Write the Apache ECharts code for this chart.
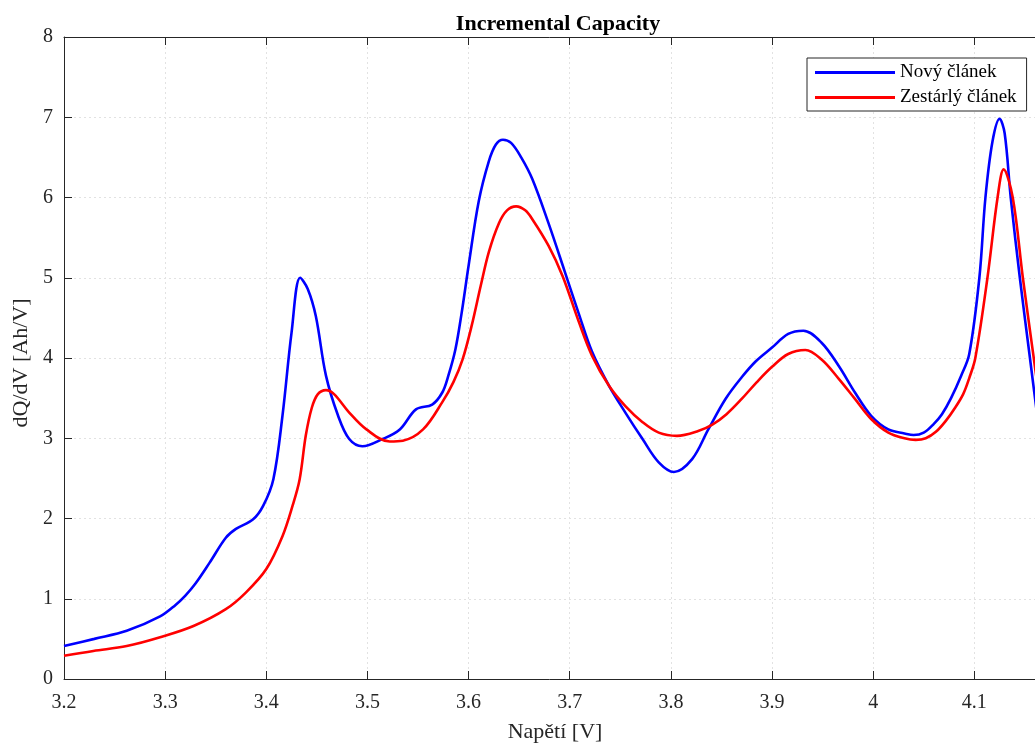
<!DOCTYPE html>
<html>
<head>
<meta charset="utf-8">
<script src="https://cdn.jsdelivr.net/npm/echarts@6/dist/echarts.min.js"></script>
<style>
  html, body { margin: 0; padding: 0; background: #fff; }
  #chart { width: 1035px; height: 748px; }
</style>
</head>
<body>
<div id="chart"></div>
<script>
// Incremental capacity (dQ/dV) of a new and an aged cell
const voltageNew = [3.200, 3.230, 3.262, 3.295, 3.310, 3.320, 3.330, 3.344, 3.360, 3.370, 3.387, 3.397, 3.407, 3.416, 3.425, 3.4335, 3.441, 3.449, 3.459, 3.471, 3.482, 3.495, 3.515, 3.532, 3.548, 3.564, 3.574, 3.580, 3.587, 3.593, 3.600, 3.610, 3.620, 3.627, 3.634, 3.642, 3.652, 3.663, 3.679, 3.695, 3.709, 3.722, 3.739, 3.755, 3.772, 3.788, 3.803, 3.821, 3.837, 3.854, 3.870, 3.884, 3.900, 3.916, 3.931, 3.949, 3.966, 3.982, 3.998, 4.015, 4.031, 4.040, 4.050, 4.060, 4.068, 4.077, 4.087, 4.095, 4.105, 4.111, 4.118, 4.125, 4.130, 4.136, 4.145, 4.155, 4.162];
const dqdvNew    = [0.41, 0.50, 0.60, 0.78, 0.92, 1.04, 1.19, 1.45, 1.76, 1.87, 1.99, 2.16, 2.49, 3.28, 4.32, 5.00, 4.86, 4.52, 3.78, 3.28, 2.99, 2.90, 2.99, 3.11, 3.36, 3.42, 3.57, 3.78, 4.11, 4.55, 5.15, 5.95, 6.45, 6.66, 6.72, 6.68, 6.50, 6.23, 5.68, 5.08, 4.55, 4.08, 3.65, 3.32, 2.99, 2.70, 2.58, 2.74, 3.11, 3.49, 3.76, 3.96, 4.13, 4.30, 4.34, 4.19, 3.90, 3.57, 3.28, 3.11, 3.06, 3.04, 3.07, 3.18, 3.30, 3.50, 3.78, 4.05, 5.00, 6.00, 6.70, 6.98, 6.80, 6.00, 5.00, 4.00, 3.30];

const voltageAged = [3.200, 3.229, 3.262, 3.295, 3.328, 3.360, 3.380, 3.400, 3.416, 3.426, 3.433, 3.439, 3.445, 3.451, 3.459, 3.467, 3.482, 3.499, 3.522, 3.535, 3.555, 3.574, 3.585, 3.594, 3.603, 3.612, 3.620, 3.630, 3.638, 3.647, 3.656, 3.663, 3.679, 3.693, 3.709, 3.722, 3.739, 3.755, 3.772, 3.788, 3.806, 3.827, 3.841, 3.855, 3.870, 3.885, 3.900, 3.916, 3.933, 3.949, 3.966, 3.982, 3.998, 4.015, 4.031, 4.042, 4.052, 4.062, 4.072, 4.081, 4.089, 4.095, 4.101, 4.113, 4.123, 4.129, 4.138, 4.148, 4.158, 4.162];
const dqdvAged    = [0.29, 0.35, 0.41, 0.52, 0.66, 0.87, 1.08, 1.37, 1.78, 2.16, 2.49, 3.03, 3.38, 3.55, 3.60, 3.55, 3.32, 3.11, 2.96, 2.97, 3.11, 3.45, 3.70, 3.98, 4.40, 4.90, 5.32, 5.68, 5.84, 5.89, 5.84, 5.73, 5.40, 5.02, 4.45, 4.03, 3.65, 3.40, 3.20, 3.07, 3.03, 3.09, 3.17, 3.30, 3.49, 3.70, 3.89, 4.05, 4.10, 3.98, 3.74, 3.49, 3.24, 3.07, 3.00, 2.98, 3.00, 3.08, 3.22, 3.38, 3.55, 3.75, 4.00, 5.00, 6.00, 6.35, 6.00, 5.00, 4.07, 3.70];

const seriesNames = ['Nový článek', 'Zestárlý článek'];
const yTicks = { min: 0, max: 8, step: 1 };

const pairs = (xs, ys) => xs.map((x, i) => [x, ys[i]]);

const serif = '"Liberation Serif", "DejaVu Serif", serif';
const axisColor = '#262626';
const gridLine = { show: true, lineStyle: { color: '#e2e2e2', type: [2, 3], width: 1 } };

const chart = echarts.init(document.getElementById('chart'), null, { renderer: 'canvas' });

chart.setOption({
  animation: false,
  backgroundColor: '#fff',
  title: {
    text: 'Incremental Capacity',
    left: 553,
    top: 8,
    textAlign: 'center',
    textStyle: { fontFamily: serif, fontSize: 22, fontWeight: 'bold', color: '#000' }
  },
  grid: { left: 64, top: 37, right: -2, bottom: 68, show: false },
  legend: {
    orient: 'vertical',
    left: 807,
    top: 58,
    padding: [5, 10, 4, 8],
    itemGap: 6,
    itemWidth: 80,
    itemHeight: 3,
    icon: 'rect',
    backgroundColor: '#fff',
    borderColor: axisColor,
    borderWidth: 1,
    textStyle: { fontFamily: serif, fontSize: 19, color: '#000' },
    data: seriesNames
  },
  xAxis: [{
    type: 'value',
    min: 3.2,
    max: 4.16,
    interval: 0.1,
    name: 'Napětí [V]',
    nameLocation: 'middle',
    nameGap: 42,
    nameTextStyle: { fontFamily: serif, fontSize: 22, color: axisColor, padding: [0, 0, 0, 11] },
    axisLine: { show: true, lineStyle: { color: axisColor, width: 1 } },
    axisTick: { show: true, inside: true, length: 8, lineStyle: { color: axisColor } },
    axisLabel: { fontFamily: serif, fontSize: 20, color: axisColor, margin: 14, showMaxLabel: false },
    splitLine: gridLine
  }, {
    type: 'value',
    position: 'top',
    min: 3.2,
    max: 4.16,
    interval: 0.1,
    axisLine: { show: true, lineStyle: { color: axisColor, width: 1 } },
    axisTick: { show: true, inside: true, length: 8, lineStyle: { color: axisColor } },
    axisLabel: { show: false },
    splitLine: { show: false }
  }],
  yAxis: {
    type: 'value',
    min: yTicks.min,
    max: yTicks.max,
    interval: yTicks.step,
    name: 'dQ/dV [Ah/V]',
    nameLocation: 'middle',
    nameGap: 31,
    nameRotate: 90,
    nameTextStyle: { fontFamily: serif, fontSize: 22, color: axisColor, padding: [0, 10, 0, 0] },
    axisLine: { show: true, lineStyle: { color: axisColor, width: 1 } },
    axisTick: { show: true, inside: true, length: 8, lineStyle: { color: axisColor } },
    axisLabel: { fontFamily: serif, fontSize: 20, color: axisColor, margin: 11 },
    splitLine: gridLine
  },
  series: [{
    name: seriesNames[0],
    type: 'line',
    data: pairs(voltageNew, dqdvNew),
    showSymbol: false,
    symbol: 'none',
    smooth: 0.35,
    clip: true,
    lineStyle: { color: '#0000ff', width: 2.6 },
    itemStyle: { color: '#0000ff' },
    z: 3
  }, {
    name: seriesNames[1],
    type: 'line',
    data: pairs(voltageAged, dqdvAged),
    showSymbol: false,
    symbol: 'none',
    smooth: 0.35,
    clip: true,
    lineStyle: { color: '#ff0000', width: 2.6 },
    itemStyle: { color: '#ff0000' },
    z: 4
  }]
});
</script>
</body>
</html>
